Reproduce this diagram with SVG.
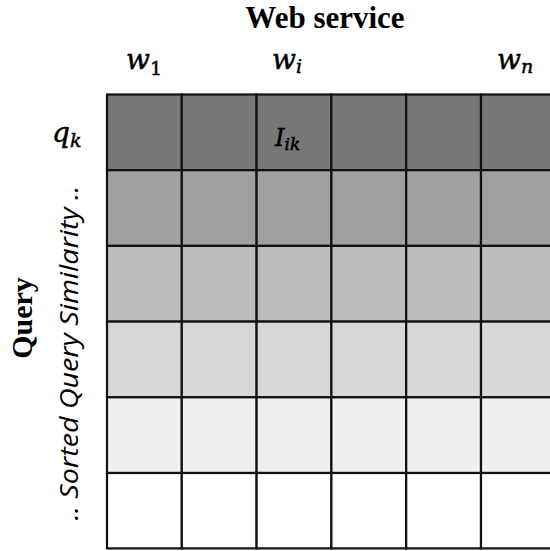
<svg xmlns="http://www.w3.org/2000/svg" width="550" height="551" viewBox="0 0 550 551">
<style>
.cell{stroke:#111;stroke-width:2.2}
.r1{fill:#787878}.r2{fill:#a0a0a0}.r3{fill:#bcbcbc}.r4{fill:#d7d7d7}.r5{fill:#efefef}.r6{fill:#ffffff}
.title{font-family:"Liberation Serif",serif;font-weight:bold;fill:#000}
.math{font-family:"DejaVu Serif",serif;font-style:italic;fill:#000;stroke:#000;stroke-width:0.5}
.sub{font-style:normal}
.subi{font-style:italic}
.side{font-family:"Open Sans","Liberation Sans",sans-serif;font-style:italic;fill:#000}
</style>
<rect width="550" height="551" fill="#fff"/>
<g id="title-webservice"><text class="title" x="325" y="28" font-size="31" text-anchor="middle">Web service</text></g>
<g id="label-w1"><text class="math" x="126" y="69" font-size="28">w<tspan class="sub" font-size="19" dy="6">1</tspan></text></g>
<g id="label-wi"><text class="math" x="272" y="69" font-size="28">w<tspan class="subi" font-size="19" dy="4">i</tspan></text></g>
<g id="label-wn"><text class="math" x="497" y="69" font-size="28">w<tspan class="subi" font-size="19" dy="4">n</tspan></text></g>
<g id="label-qk"><text class="math" x="52" y="142" font-size="28">q<tspan class="subi" font-size="19" dy="5">k</tspan></text></g>
<g id="title-query"><text class="title" transform="translate(32,318) rotate(-90)" font-size="30" text-anchor="middle">Query</text></g>
<g id="label-sorted"><text class="side" transform="translate(78,353) rotate(-90)" font-size="26" text-anchor="middle" textLength="335" lengthAdjust="spacingAndGlyphs">.. Sorted Query Similarity ..</text></g>
<g id="row1">
<rect class="cell r1" x="107" y="94.5" width="74.8" height="75.7"/>
<rect class="cell r1" x="181.8" y="94.5" width="74.8" height="75.7"/>
<rect class="cell r1" x="256.6" y="94.5" width="74.8" height="75.7"/>
<rect class="cell r1" x="331.4" y="94.5" width="74.8" height="75.7"/>
<rect class="cell r1" x="406.2" y="94.5" width="74.8" height="75.7"/>
<rect class="cell r1" x="481" y="94.5" width="74.8" height="75.7"/>
</g>
<g id="row2">
<rect class="cell r2" x="107" y="170.2" width="74.8" height="75.7"/>
<rect class="cell r2" x="181.8" y="170.2" width="74.8" height="75.7"/>
<rect class="cell r2" x="256.6" y="170.2" width="74.8" height="75.7"/>
<rect class="cell r2" x="331.4" y="170.2" width="74.8" height="75.7"/>
<rect class="cell r2" x="406.2" y="170.2" width="74.8" height="75.7"/>
<rect class="cell r2" x="481" y="170.2" width="74.8" height="75.7"/>
</g>
<g id="row3">
<rect class="cell r3" x="107" y="245.9" width="74.8" height="75.7"/>
<rect class="cell r3" x="181.8" y="245.9" width="74.8" height="75.7"/>
<rect class="cell r3" x="256.6" y="245.9" width="74.8" height="75.7"/>
<rect class="cell r3" x="331.4" y="245.9" width="74.8" height="75.7"/>
<rect class="cell r3" x="406.2" y="245.9" width="74.8" height="75.7"/>
<rect class="cell r3" x="481" y="245.9" width="74.8" height="75.7"/>
</g>
<g id="row4">
<rect class="cell r4" x="107" y="321.6" width="74.8" height="75.7"/>
<rect class="cell r4" x="181.8" y="321.6" width="74.8" height="75.7"/>
<rect class="cell r4" x="256.6" y="321.6" width="74.8" height="75.7"/>
<rect class="cell r4" x="331.4" y="321.6" width="74.8" height="75.7"/>
<rect class="cell r4" x="406.2" y="321.6" width="74.8" height="75.7"/>
<rect class="cell r4" x="481" y="321.6" width="74.8" height="75.7"/>
</g>
<g id="row5">
<rect class="cell r5" x="107" y="397.3" width="74.8" height="75.7"/>
<rect class="cell r5" x="181.8" y="397.3" width="74.8" height="75.7"/>
<rect class="cell r5" x="256.6" y="397.3" width="74.8" height="75.7"/>
<rect class="cell r5" x="331.4" y="397.3" width="74.8" height="75.7"/>
<rect class="cell r5" x="406.2" y="397.3" width="74.8" height="75.7"/>
<rect class="cell r5" x="481" y="397.3" width="74.8" height="75.7"/>
</g>
<g id="row6">
<rect class="cell r6" x="107" y="473" width="74.8" height="75.4"/>
<rect class="cell r6" x="181.8" y="473" width="74.8" height="75.4"/>
<rect class="cell r6" x="256.6" y="473" width="74.8" height="75.4"/>
<rect class="cell r6" x="331.4" y="473" width="74.8" height="75.4"/>
<rect class="cell r6" x="406.2" y="473" width="74.8" height="75.4"/>
<rect class="cell r6" x="481" y="473" width="74.8" height="75.4"/>
</g>
<g id="label-Iik"><text class="math" x="275" y="146" font-size="24" fill="#222" stroke="none">I<tspan class="subi" font-size="17" dy="4">ik</tspan></text></g>
<g id="connectors"></g>
</svg>
